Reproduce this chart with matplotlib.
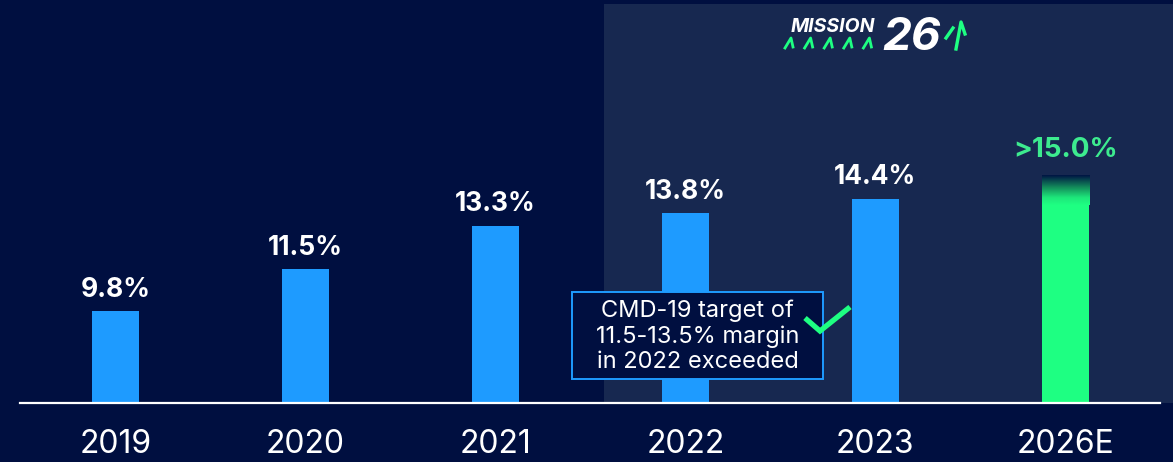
import matplotlib
matplotlib.use("Agg")
import matplotlib.pyplot as plt
import numpy as np
from matplotlib.patches import Rectangle
from matplotlib.colors import LinearSegmentedColormap
from matplotlib.lines import Line2D

plt.rcParams['font.family'] = ['Inter', 'DejaVu Sans']

# ---- data ----
categories = ['2019', '2020', '2021', '2022', '2023', '2026E']
values = [9.8, 11.5, 13.3, 13.8, 14.4, 15.33]
labels = ['9.8%', '11.5%', '13.3%', '13.8%', '14.4%', '>15.0%']
annotation_text = 'CMD-19 target of\n11.5-13.5% margin\nin 2022 exceeded'
logo_word = 'MISSION'
logo_num = '26'

# ---- style ----
BG = '#000F40'
PANEL = '#172850'
BLUE = '#1E9BFF'
GREEN = '#1EFF82'
GREEN_TXT = '#3DEB8F'
W, H = 1173, 462
BASE_PX = 403
Y0 = 6.03          # value at baseline
PX_PER_UNIT = 24.41
X0_PX = 115.3
STEP_PX = 190.0

fig = plt.figure(figsize=(W / 100, H / 100), dpi=100, facecolor=BG)
ax = fig.add_axes([0, (H - BASE_PX) / H, 1, BASE_PX / H])
ax.set_facecolor(BG)
for s in ax.spines.values():
    s.set_visible(False)
ax.tick_params(axis='y', left=False, labelleft=False)

px2x = lambda p: (p - X0_PX) / STEP_PX
py2y = lambda p: Y0 + (BASE_PX - p) / PX_PER_UNIT

# shaded panel
ax.add_patch(Rectangle((px2x(604), Y0), px2x(W + 5) - px2x(604), py2y(4) - Y0,
                       facecolor=PANEL, edgecolor='none', zorder=0))

x = np.arange(len(categories))
bw = 47.3 / STEP_PX
colors = [BLUE] * 5 + [GREEN]
heights = [v - Y0 for v in values]
bars = ax.bar(x, heights, bottom=Y0, width=bw, color=colors, zorder=2, linewidth=0)

# gradient on top of the estimate bar
gcmap = LinearSegmentedColormap.from_list(
    'g', [(0.0, GREEN), (0.25, '#1EE67A'), (0.6, '#138A5A'), (1.0, '#001444')])
grad_h = 1.2
grad = np.linspace(0, 1, 200).reshape(-1, 1)
ax.imshow(grad, cmap=gcmap, aspect='auto', origin='lower',
          extent=(x[-1] - bw / 2, x[-1] + bw / 2, values[-1] - grad_h, values[-1]),
          zorder=3, interpolation='bilinear')
ax.set_xlim(-X0_PX / STEP_PX, (W - X0_PX) / STEP_PX)
ax.set_ylim(Y0, Y0 + BASE_PX / PX_PER_UNIT)

# value labels
for i, (v, lab) in enumerate(zip(values, labels)):
    last = i == len(values) - 1
    ax.annotate(lab, (x[i], v), xytext=(0, 9 if last else 6), textcoords='offset points',
                ha='center', va='bottom', fontsize=20 if last else 19, fontweight='bold',
                color=GREEN_TXT if last else 'white', zorder=5)

# baseline
ax.axhline(Y0, xmin=20 / W, xmax=1160 / W, color='white', lw=1.6, zorder=4,
           clip_on=False)

# x tick labels
ax.set_xticks(x)
ax.set_xticklabels(categories, fontsize=23, color='white')
ax.tick_params(axis='x', length=0, pad=19)

# annotation box
ax.add_patch(Rectangle((px2x(572), py2y(379)), px2x(823) - px2x(572), py2y(292) - py2y(379),
                       facecolor=BG, edgecolor=BLUE, lw=1.4, zorder=6))
ax.text(px2x(697.5), py2y(336), annotation_text,
        ha='center', va='center', fontsize=17, color='white', linespacing=1.18,
        zorder=7)

# check mark
ck_x = [805, 820, 850]
ck_y = [318, 331, 307]
ax.plot([px2x(p) for p in ck_x], [py2y(p) for p in ck_y],
        color=GREEN, lw=3.8, solid_capstyle='butt', solid_joinstyle='miter', zorder=6,
        clip_on=False)

# logo (figure pixel coordinates, y from top)
def fp(px, py):
    return px / W, 1 - py / H

fig.text(*fp(791, 32.5), logo_word, fontsize=14, fontweight='bold', style='italic',
         color='white', ha='left', va='baseline')
fig.text(*fp(882, 49.5), logo_num, fontsize=33, fontweight='bold', style='italic',
         color='white', ha='left', va='baseline')
for k in range(5):
    cx = 790 + k * 19.6
    xs = [cx - 5, cx + 1, cx + 3]
    ys = [48, 38, 47]
    fig.lines.append(Line2D([p / W for p in xs], [1 - p / H for p in ys],
                            transform=fig.transFigure, color=GREEN, lw=2.0))
# arrow
for xs, ys in [([946, 953], [38, 28]), ([956, 961, 965], [49, 22, 34])]:
    fig.lines.append(Line2D([p / W for p in xs], [1 - p / H for p in ys],
                            transform=fig.transFigure, color=GREEN, lw=2.4))

fig.savefig('out.png', dpi=100, facecolor=BG)
